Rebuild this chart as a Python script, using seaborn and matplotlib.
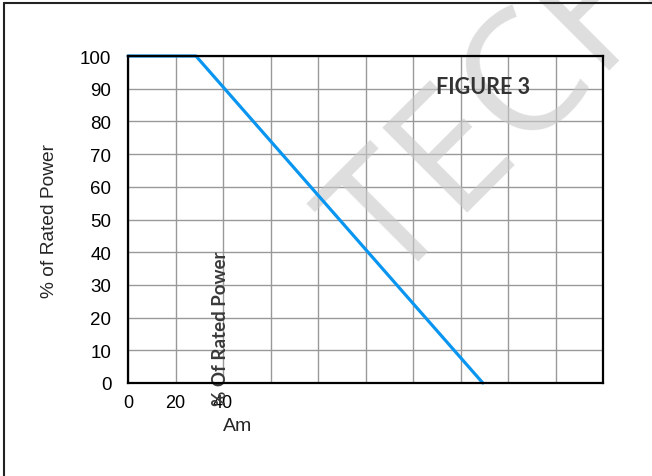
import matplotlib
matplotlib.use("Agg")
import matplotlib.pyplot as plt
from matplotlib.lines import Line2D
import numpy as np
import pandas as pd
import seaborn as sns

# Data
current_am = [0, 28.6, 149.4]
rated_power_pct = [100, 100, 0]
x_ticks = list(range(0, 201, 20))
x_tick_labels = ["0", "20", "40"] + [""] * 8
y_ticks = list(range(0, 101, 10))

df = pd.DataFrame({"Am": current_am, "% of Rated Power": rated_power_pct})

sns.set_style("white")
plt.rcParams["font.family"] = ["Liberation Sans", "DejaVu Sans"]

W, H = 652, 477
fig = plt.figure(figsize=(W / 100, H / 100), dpi=100)
ax = fig.add_axes([128 / W, 1 - 384 / H, (603 - 128) / W, (384 - 57) / H])
ax.set_facecolor("none")

sns.lineplot(data=df, x="Am", y="% of Rated Power", ax=ax, color="#0a96f0",
             linewidth=2.3, zorder=3, clip_on=False)

ax.set_xlim(0, 200)
ax.set_ylim(0, 100)
ax.set_xticks(x_ticks)
ax.set_xticklabels(x_tick_labels)
ax.set_yticks(y_ticks)
ax.tick_params(axis="both", length=0, colors="black")
ax.tick_params(axis="y", pad=12, labelsize=13.5)
ax.tick_params(axis="x", pad=8, labelsize=13)
ax.grid(True, color="#999999", linewidth=1.0)
ax.set_axisbelow(True)
for s in ax.spines.values():
    s.set_visible(True)
    s.set_color("black")
    s.set_linewidth(1.6)
    s.set_zorder(4)

ax.set_xlabel("")
ax.set_ylabel("% of Rated Power", fontsize=13.8, labelpad=16)
fig.text(238 / W, 1 - 427 / H, "Am", fontsize=14, ha="center", va="center")

# annotations inside plot
fig.text(483 / W, 1 - 88 / H, "FIGURE 3", fontsize=15.5, fontweight="bold",
         family="Lato", color="#333333", ha="center", va="center")
ax.text(220 / W, 1 - 406 / H, "% Of Rated Power", transform=fig.transFigure,
        rotation=90, ha="center", va="bottom", fontsize=13.5, fontweight="bold",
        family="Lato", color="#3a3a3a", zorder=2, clip_on=False)

# watermark
ax.text(390 / W, 1 - 289 / H, "TECH", transform=fig.transFigure, rotation=45,
        rotation_mode="anchor", ha="left", va="baseline", fontsize=122,
        family="Open Sans", color="#c8c8c8", alpha=0.6, zorder=2.5, clip_on=False)

# page frame
fig.add_artist(Line2D([4 / W, 1], [1 - 4 / H, 1 - 4 / H], color="#222222", linewidth=1.5))
fig.add_artist(Line2D([4 / W, 4 / W], [0, 1 - 4 / H], color="#222222", linewidth=1.5))

fig.savefig("out.png", dpi=100)
